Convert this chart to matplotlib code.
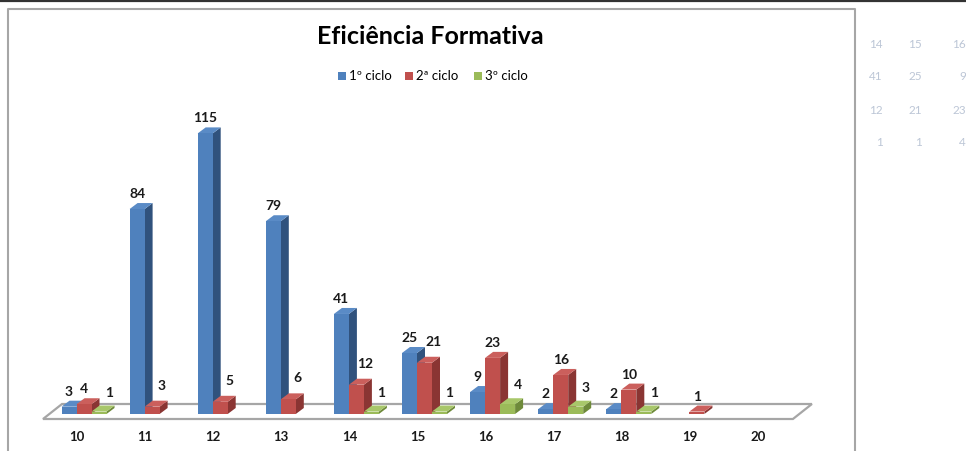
import numpy as np
import matplotlib
matplotlib.use("Agg")
import matplotlib.pyplot as plt
from matplotlib.patches import Polygon, Rectangle
from matplotlib.lines import Line2D

plt.rcParams["font.family"] = ["Lato", "DejaVu Sans"]

# data (nan = empty cell)
categories = [10, 11, 12, 13, 14, 15, 16, 17, 18, 19, 20]
ciclo1 = [3, 84, 115, 79, 41, 25, 9, 2, 2, np.nan, np.nan]
ciclo2 = [4, 3, 5, 6, 12, 21, 23, 16, 10, 1, np.nan]
ciclo3 = [1, np.nan, np.nan, np.nan, 1, 1, 4, 3, 1, np.nan, np.nan]
series_names = ["1º ciclo", "2ª ciclo", "3º ciclo"]
title = "Eficiência Formativa"

# faded spreadsheet cells to the right of the chart
sheet_rows = [["14", "15", "16"], ["41", "25", "9"], ["12", "21", "23"], ["1", "1", "4"]]

front = ["#4F81BD", "#C0504D", "#9BBB59"]
side = ["#30527D", "#8A3533", "#6E8A3A"]
top = ["#5A8BC6", "#CB5F5C", "#A8C76A"]

W, H = 966, 451
fig = plt.figure(figsize=(W / 100, H / 100), dpi=100)
ax = fig.add_axes([0, 0, 1, 1])
# px mapping: x_px = 84 + 68.1*i ; y_px = 414 - 2.44*v
sx, sy = 68.1, 2.44
ax.set_xlim(-84 / sx, (W - 84) / sx)
ax.set_ylim((414 - H) / sy, 414 / sy)
ax.axis("off")

bw = 15 / sx            # bar width
ddx, ddy = 8 / sx, 6 / sy  # 3d depth offset

# floor
fdx, fdy = 19 / sx, 15 / sy
f0, f1, fy = -0.602, 10.41, -5 / sy
ax.add_patch(Polygon([(f0, fy), (f1, fy), (f1 + fdx, fy + fdy), (f0 + fdx, fy + fdy)],
                     closed=True, facecolor="white", edgecolor="#A6A6A6", lw=1.6, zorder=1))


def bar3d(x0, v, k):
    x1 = x0 + bw
    ax.add_patch(Polygon([(x1, 0), (x1 + ddx, ddy), (x1 + ddx, v + ddy), (x1, v)],
                         closed=True, facecolor=side[k], edgecolor="none", zorder=2))
    ax.add_patch(Polygon([(x0, v), (x0 + ddx, v + ddy), (x1 + ddx, v + ddy), (x1, v)],
                         closed=True, facecolor=top[k], edgecolor="none", zorder=2))
    ax.add_patch(Rectangle((x0, 0), bw, v, facecolor=front[k], edgecolor="none", zorder=2))


series = [ciclo1, ciclo2, ciclo3]
for i, cat in enumerate(categories):
    for k, vals in enumerate(series):
        v = vals[i]
        if np.isnan(v):
            continue
        x0 = i + (k - 1.5) * bw
        bar3d(x0, v, k)
        # label placement, roughly like Excel does it
        lx, ly = x0 + bw / 2, v + 15 / sy
        if k == 1 and not np.isnan(ciclo1[i]) and ciclo1[i] > v:
            lx += 9 / sx; ly += 6 / sy
        if k == 2:
            lx += 10 / sx; ly += 4 / sy
        ax.text(lx, ly, f"{int(v)}", ha="center", va="center", fontsize=10,
                fontweight="bold", color="#1a1a1a", zorder=5)
    ax.text(i - 7 / sx, -23 / sy, str(cat), ha="center", va="center", fontsize=9.5,
            fontweight="bold", color="#1a1a1a")

# chart frame and top rule
fig.add_artist(Line2D([8 / W, 8 / W, 855 / W, 855 / W], [0, 1 - 8.5 / H, 1 - 8.5 / H, 0],
                      color="#A6A6A6", lw=1.5))
fig.add_artist(Line2D([0, 1], [1 - 1 / H, 1 - 1 / H], color="#333333", lw=1.6))

fig.text(430 / W, 1 - 37 / H, title, ha="center", va="center", fontsize=18, fontweight="bold")

# legend
lx0 = [338, 405, 474]
for k, name in enumerate(series_names):
    fig.add_artist(Rectangle(((lx0[k]) / W, 1 - 80 / H), 8 / W, 8 / H, facecolor=front[k],
                             edgecolor="none", transform=fig.transFigure))
    fig.text((lx0[k] + 11) / W, 1 - 75.5 / H, name, ha="left", va="center", fontsize=9.5)

# faded spreadsheet numbers
col_right = [883, 922, 966]
for r, row in enumerate(sheet_rows):
    for c, s in enumerate(row):
        fig.text(col_right[c] / W, 1 - (44 + 33 * r) / H, s, ha="right", va="center",
                 fontsize=8.5, color="#BCC6D6")

fig.savefig("out.png", dpi=100)
